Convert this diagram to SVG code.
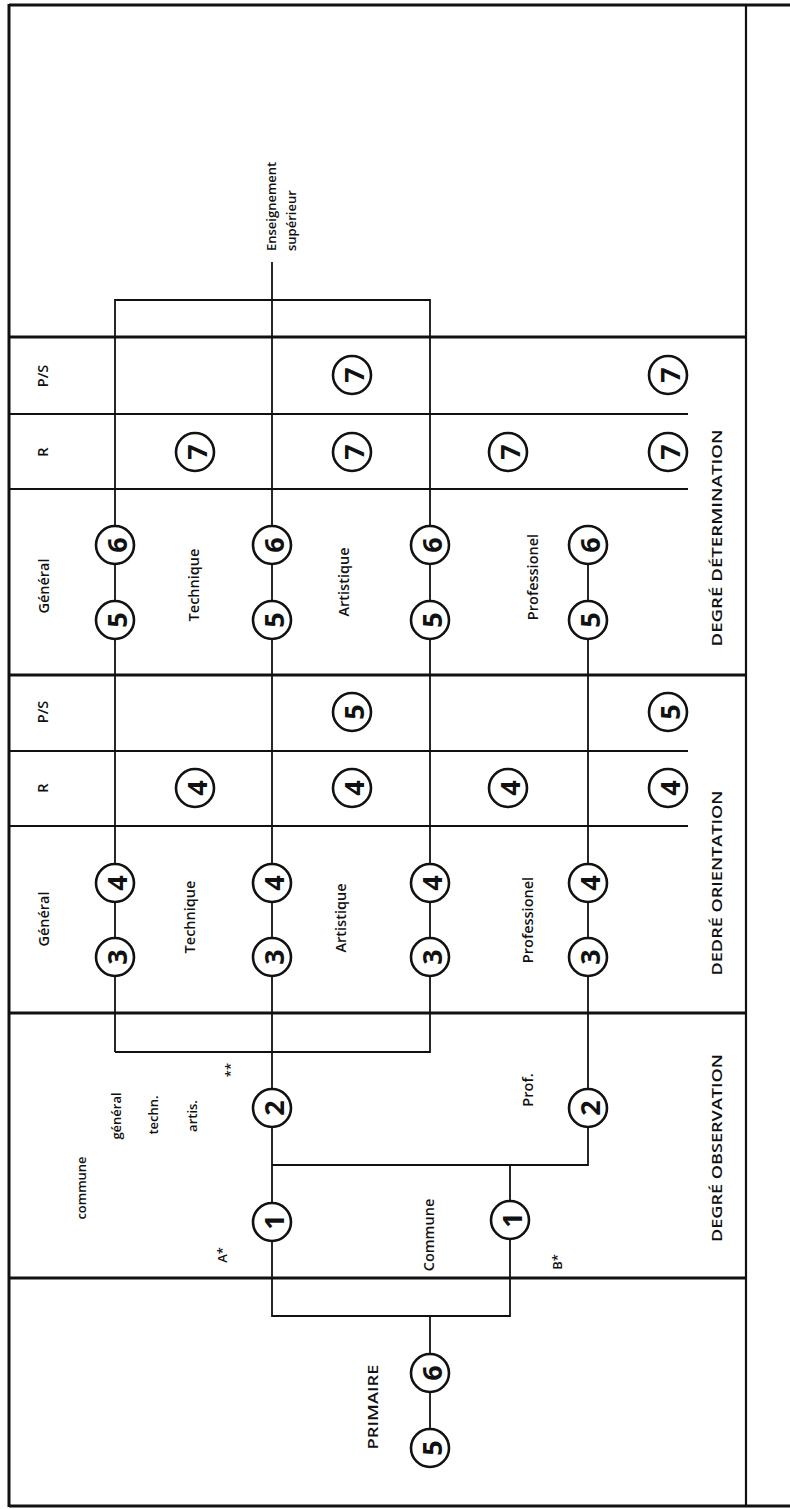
<svg xmlns="http://www.w3.org/2000/svg" width="790" height="1509" viewBox="0 0 790 1509">
<style>
text{font-family:"Open Sans","Liberation Sans",sans-serif;fill:#111;text-anchor:middle;dominant-baseline:central}
.lab{font-size:14.5px;font-weight:600}
.sm{font-size:13px;font-weight:600}
.big{font-size:14px;font-weight:600}
.num{font-size:27px;font-weight:700}
.frame{stroke:#111;fill:none;stroke-width:3}
.thin{stroke:#111;fill:none;stroke-width:1.8}
.con{stroke:#111;fill:none;stroke-width:1.8}
circle{fill:#fff;stroke:#111;stroke-width:2.6}
</style>
<rect width="790" height="1509" fill="#fff"/>
<g id="frame">
<line class="frame" x1="9" y1="5" x2="790" y2="5"/>
<line class="frame" x1="9" y1="1506" x2="790" y2="1506"/>
<line class="frame" x1="9" y1="4" x2="9" y2="1507"/>
<line class="thin" x1="746" y1="5" x2="746" y2="1506" style="stroke-width:2.2"/>
<line class="frame" x1="9" y1="337" x2="746" y2="337"/>
<line class="frame" x1="9" y1="675" x2="746" y2="675"/>
<line class="frame" x1="9" y1="1013" x2="746" y2="1013"/>
<line class="frame" x1="9" y1="1278" x2="746" y2="1278"/>
<line class="thin" x1="9" y1="414" x2="688" y2="414"/>
<line class="thin" x1="9" y1="489" x2="688" y2="489"/>
<line class="thin" x1="9" y1="751" x2="688" y2="751"/>
<line class="thin" x1="9" y1="826" x2="688" y2="826"/>
</g>
<g id="connectors">
<path class="con" d="M115,1052 V300 H430 V1052 H115"/>
<path class="con" d="M272,262 V1316 H510 V1165"/>
<path class="con" d="M272,1165 H588 V545"/>
<path class="con" d="M430,1316 V1448"/>
</g>
<g id="labels">
<text class="lab" transform="translate(42,376) rotate(-90)">P/S</text>
<text class="lab" transform="translate(42,452) rotate(-90)">R</text>
<text class="lab" transform="translate(43,586) rotate(-90)">Général</text>
<text class="lab" transform="translate(42,712) rotate(-90)">P/S</text>
<text class="lab" transform="translate(42,788) rotate(-90)">R</text>
<text class="lab" transform="translate(43,919) rotate(-90)">Général</text>
<text class="lab" transform="translate(193,585) rotate(-90)">Technique</text>
<text class="lab" transform="translate(343,582) rotate(-90)">Artistique</text>
<text class="lab" transform="translate(532,577) rotate(-90)">Professionel</text>
<text class="lab" transform="translate(189,917) rotate(-90)">Technique</text>
<text class="lab" transform="translate(340,918) rotate(-90)">Artistique</text>
<text class="lab" transform="translate(527,920) rotate(-90)">Professionel</text>
<text class="big" transform="translate(716,538) rotate(-90)" textLength="217" lengthAdjust="spacingAndGlyphs">DEGRÉ DÉTERMINATION</text>
<text class="big" transform="translate(716,883) rotate(-90)" textLength="185" lengthAdjust="spacingAndGlyphs">DEDRÉ ORIENTATION</text>
<text class="big" transform="translate(716,1148) rotate(-90)" textLength="188" lengthAdjust="spacingAndGlyphs">DEGRÉ OBSERVATION</text>
<text class="big" transform="translate(372,1407) rotate(-90)" textLength="85" lengthAdjust="spacingAndGlyphs">PRIMAIRE</text>
<text class="sm" transform="translate(271,251) rotate(-90)" style="text-anchor:start">Enseignement</text>
<text class="sm" transform="translate(291,251) rotate(-90)" style="text-anchor:start">supérieur</text>
<text class="sm" transform="translate(81,1188) rotate(-90)">commune</text>
<text class="sm" transform="translate(116,1116) rotate(-90)">général</text>
<text class="sm" transform="translate(153,1115) rotate(-90)">techn.</text>
<text class="sm" transform="translate(192,1116) rotate(-90)">artis.</text>
<text class="sm" transform="translate(230,1070) rotate(-90)">**</text>
<text class="sm" transform="translate(222,1255) rotate(-90)">A*</text>
<text class="lab" transform="translate(428,1235) rotate(-90)">Commune</text>
<text class="sm" transform="translate(557,1262) rotate(-90)">B*</text>
<text class="lab" transform="translate(527,1090) rotate(-90)">Prof.</text>
</g>
<g id="n-det6-1"><circle cx="115" cy="545" r="19"/><text class="num" transform="translate(116,545) rotate(-90)">6</text></g>
<g id="n-det6-2"><circle cx="272" cy="545" r="19"/><text class="num" transform="translate(273,545) rotate(-90)">6</text></g>
<g id="n-det6-3"><circle cx="430" cy="545" r="19"/><text class="num" transform="translate(431,545) rotate(-90)">6</text></g>
<g id="n-det6-4"><circle cx="588" cy="545" r="19"/><text class="num" transform="translate(589,545) rotate(-90)">6</text></g>
<g id="n-det5-1"><circle cx="115" cy="620" r="19"/><text class="num" transform="translate(116,620) rotate(-90)">5</text></g>
<g id="n-det5-2"><circle cx="272" cy="620" r="19"/><text class="num" transform="translate(273,620) rotate(-90)">5</text></g>
<g id="n-det5-3"><circle cx="430" cy="620" r="19"/><text class="num" transform="translate(431,620) rotate(-90)">5</text></g>
<g id="n-det5-4"><circle cx="588" cy="620" r="19"/><text class="num" transform="translate(589,620) rotate(-90)">5</text></g>
<g id="n-detR-1"><circle cx="195" cy="452" r="19"/><text class="num" transform="translate(196,452) rotate(-90)">7</text></g>
<g id="n-detR-2"><circle cx="352" cy="452" r="19"/><text class="num" transform="translate(353,452) rotate(-90)">7</text></g>
<g id="n-detR-3"><circle cx="508" cy="452" r="19"/><text class="num" transform="translate(509,452) rotate(-90)">7</text></g>
<g id="n-detR-4"><circle cx="668" cy="452" r="19"/><text class="num" transform="translate(669,452) rotate(-90)">7</text></g>
<g id="n-detPS-1"><circle cx="352" cy="375" r="19"/><text class="num" transform="translate(353,375) rotate(-90)">7</text></g>
<g id="n-detPS-2"><circle cx="668" cy="375" r="19"/><text class="num" transform="translate(669,375) rotate(-90)">7</text></g>
<g id="n-ori4-1"><circle cx="115" cy="883" r="19"/><text class="num" transform="translate(116,883) rotate(-90)">4</text></g>
<g id="n-ori4-2"><circle cx="272" cy="883" r="19"/><text class="num" transform="translate(273,883) rotate(-90)">4</text></g>
<g id="n-ori4-3"><circle cx="430" cy="883" r="19"/><text class="num" transform="translate(431,883) rotate(-90)">4</text></g>
<g id="n-ori4-4"><circle cx="588" cy="883" r="19"/><text class="num" transform="translate(589,883) rotate(-90)">4</text></g>
<g id="n-ori3-1"><circle cx="115" cy="957" r="19"/><text class="num" transform="translate(116,957) rotate(-90)">3</text></g>
<g id="n-ori3-2"><circle cx="272" cy="957" r="19"/><text class="num" transform="translate(273,957) rotate(-90)">3</text></g>
<g id="n-ori3-3"><circle cx="430" cy="957" r="19"/><text class="num" transform="translate(431,957) rotate(-90)">3</text></g>
<g id="n-ori3-4"><circle cx="588" cy="957" r="19"/><text class="num" transform="translate(589,957) rotate(-90)">3</text></g>
<g id="n-oriR-1"><circle cx="195" cy="788" r="19"/><text class="num" transform="translate(196,788) rotate(-90)">4</text></g>
<g id="n-oriR-2"><circle cx="352" cy="788" r="19"/><text class="num" transform="translate(353,788) rotate(-90)">4</text></g>
<g id="n-oriR-3"><circle cx="508" cy="788" r="19"/><text class="num" transform="translate(509,788) rotate(-90)">4</text></g>
<g id="n-oriR-4"><circle cx="668" cy="788" r="19"/><text class="num" transform="translate(669,788) rotate(-90)">4</text></g>
<g id="n-oriPS-1"><circle cx="352" cy="712" r="19"/><text class="num" transform="translate(353,712) rotate(-90)">5</text></g>
<g id="n-oriPS-2"><circle cx="668" cy="712" r="19"/><text class="num" transform="translate(669,712) rotate(-90)">5</text></g>
<g id="n-obs2-1"><circle cx="272" cy="1108" r="19"/><text class="num" transform="translate(273,1108) rotate(-90)">2</text></g>
<g id="n-obs2-2"><circle cx="588" cy="1108" r="19"/><text class="num" transform="translate(589,1108) rotate(-90)">2</text></g>
<g id="n-obs1-1"><circle cx="272" cy="1222" r="19"/><text class="num" transform="translate(273,1222) rotate(-90)">1</text></g>
<g id="n-obs1-2"><circle cx="510" cy="1220" r="19"/><text class="num" transform="translate(511,1220) rotate(-90)">1</text></g>
<g id="n-pri6"><circle cx="430" cy="1373" r="19"/><text class="num" transform="translate(431,1373) rotate(-90)">6</text></g>
<g id="n-pri5"><circle cx="430" cy="1448" r="19"/><text class="num" transform="translate(431,1448) rotate(-90)">5</text></g>
</svg>
